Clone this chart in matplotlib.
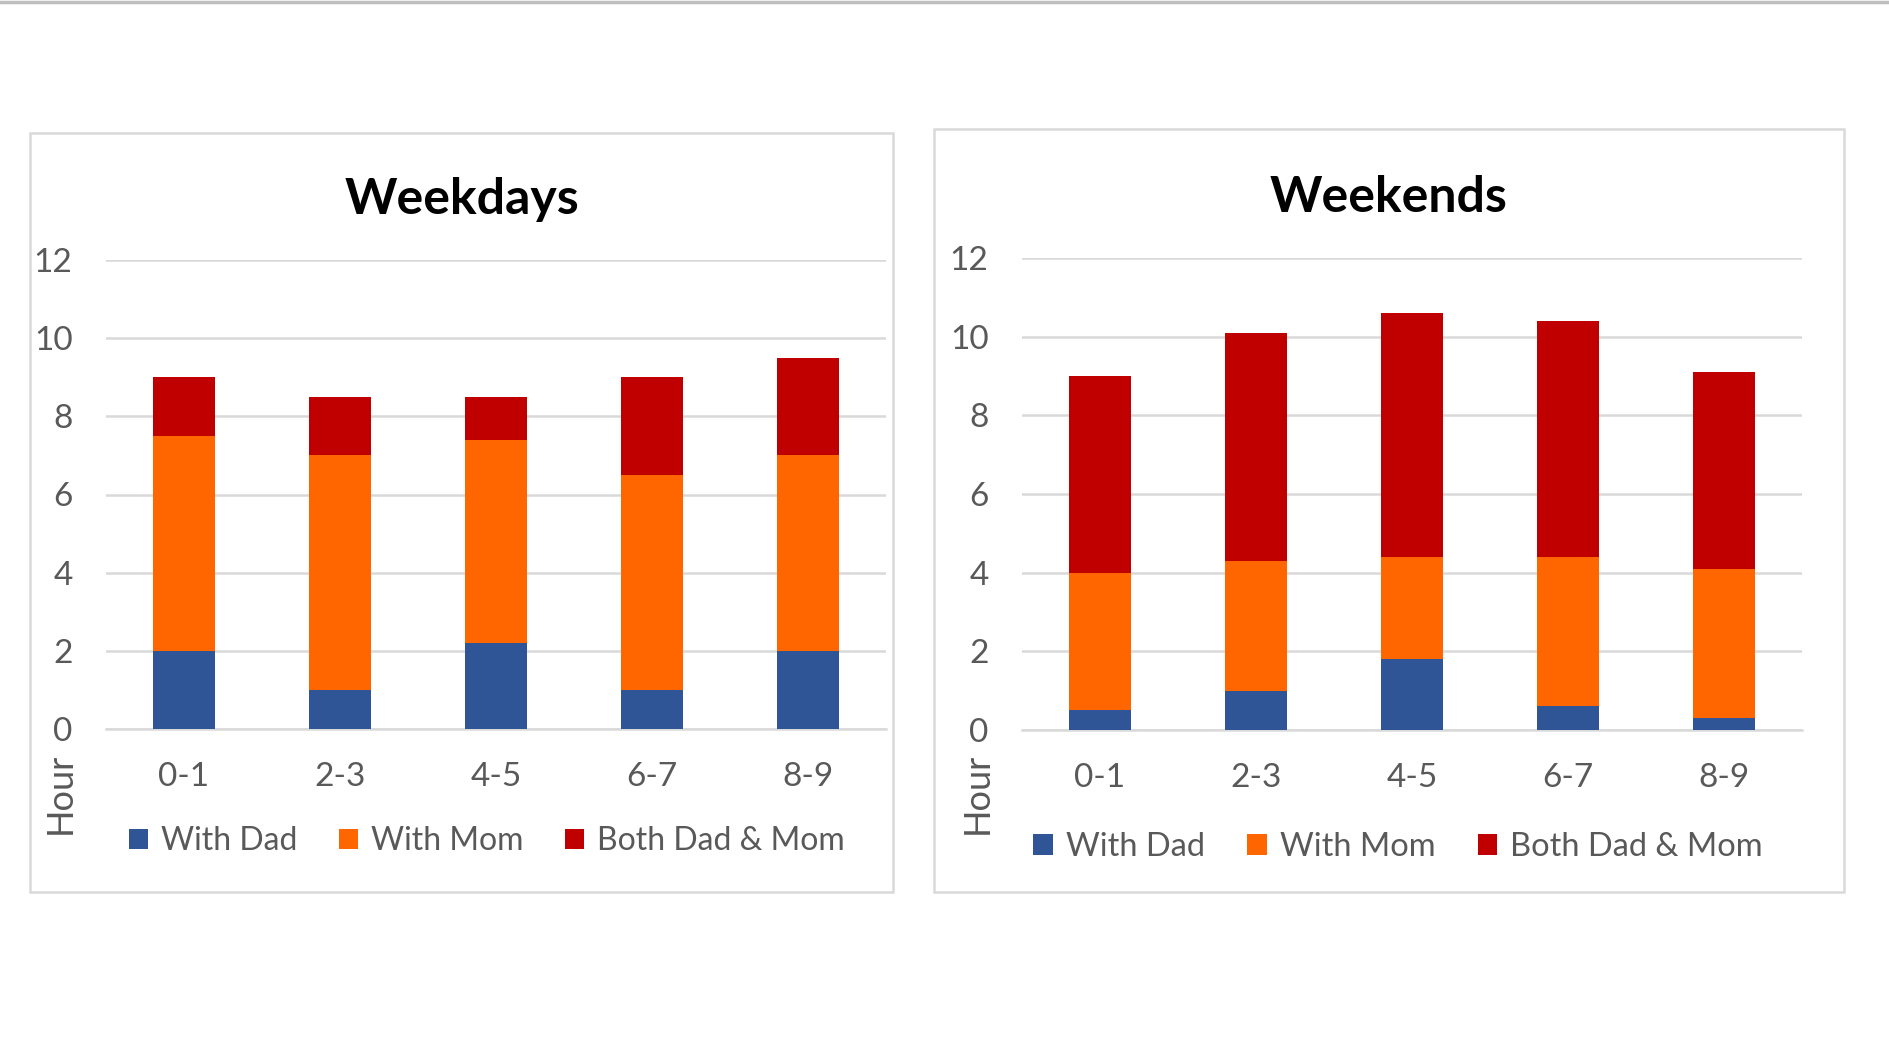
import matplotlib
matplotlib.use("Agg")
import matplotlib.pyplot as plt
from matplotlib.patches import Rectangle
from matplotlib.lines import Line2D
import numpy as np

plt.rcParams['font.family'] = ['Lato', 'DejaVu Sans']

categories = ["0-1", "2-3", "4-5", "6-7", "8-9"]
weekday_dad = [2.0, 1.0, 2.2, 1.0, 2.0]
weekday_mom = [5.5, 6.0, 5.2, 5.5, 5.0]
weekday_both = [1.5, 1.5, 1.1, 2.5, 2.5]
weekend_dad = [0.5, 1.0, 1.8, 0.6, 0.3]
weekend_mom = [3.5, 3.3, 2.6, 3.8, 3.8]
weekend_both = [5.0, 5.8, 6.2, 6.0, 5.0]
series_labels = ["With Dad", "With Mom", "Both Dad & Mom"]
colors = ["#2F5597", "#FF6600", "#C00000"]
yticks = [0, 2, 4, 6, 8, 10, 12]

W, H = 1890, 1062
fig = plt.figure(figsize=(W / 100, H / 100), dpi=100)
fig.patch.set_facecolor("white")

# top gray line
fig.add_artist(Line2D([0, 1], [1 - 1.5 / H, 1 - 1.5 / H], color="#BFBFBF", lw=2.5, transform=fig.transFigure))

def px_rect(x0, y0, x1, y1):
    return Rectangle((x0 / W, 1 - y1 / H), (x1 - x0) / W, (y1 - y0) / H,
                     transform=fig.transFigure, fill=False, edgecolor="#D9D9D9", lw=1.8)

fig.add_artist(px_rect(30, 133, 893, 892))
fig.add_artist(px_rect(934, 129, 1844, 892))

panels = [
    dict(data=(weekday_dad, weekday_mom, weekday_both), ax=(106, 260, 886, 729),
         title="Weekdays", tpos=(462, 200), hour=(60, 793), leg=(487, 841), legfs=23),
    dict(data=(weekend_dad, weekend_mom, weekend_both), ax=(1022, 258, 1802, 730),
         title="Weekends", tpos=(1389, 197), hour=(977, 793), leg=(1398, 847), legfs=23.5),
]

for p in panels:
    x0, y0, x1, y1 = p["ax"]
    ax = fig.add_axes([x0 / W, 1 - y1 / H, (x1 - x0) / W, (y1 - y0) / H])
    x = np.arange(len(categories))
    bottom = np.zeros(len(categories))
    handles = []
    for vals, c, lab in zip(p["data"], colors, series_labels):
        b = ax.bar(x, vals, width=0.4, bottom=bottom, color=c, label=lab, zorder=3)
        bottom += np.array(vals)
        handles.append(b)
    ax.set_xlim(-0.5, 4.5)
    ax.set_ylim(0, 12)
    ax.set_yticks(yticks)
    ax.set_xticks(x)
    ax.set_xticklabels(categories)
    ax.grid(axis="y", color="#D9D9D9", lw=1.8, zorder=0)
    for s in ["top", "right", "left"]:
        ax.spines[s].set_visible(False)
    ax.spines["bottom"].set_color("#D9D9D9")
    ax.spines["bottom"].set_linewidth(1.8)
    ax.tick_params(axis="both", length=0, labelsize=24, labelcolor="#595959")
    ax.tick_params(axis="y", pad=24)
    ax.tick_params(axis="x", pad=24)
    ax.set_facecolor("none")
    fig.text(p["tpos"][0] / W, 1 - p["tpos"][1] / H, p["title"], ha="center", va="center",
             fontsize=36, fontweight="bold", color="black")
    fig.text(p["hour"][0] / W, 1 - p["hour"][1] / H, "Hour", ha="center", va="center",
             rotation=90, fontsize=26, color="#595959")
    fig.legend(handles=handles, labels=series_labels, loc="center",
               bbox_to_anchor=(p["leg"][0] / W, 1 - p["leg"][1] / H), ncol=3, frameon=False,
               fontsize=p["legfs"], labelcolor="#595959", handlelength=0.6, handleheight=0.6,
               handletextpad=0.4, columnspacing=1.3)

fig.savefig("out.png", dpi=100, facecolor="white")
